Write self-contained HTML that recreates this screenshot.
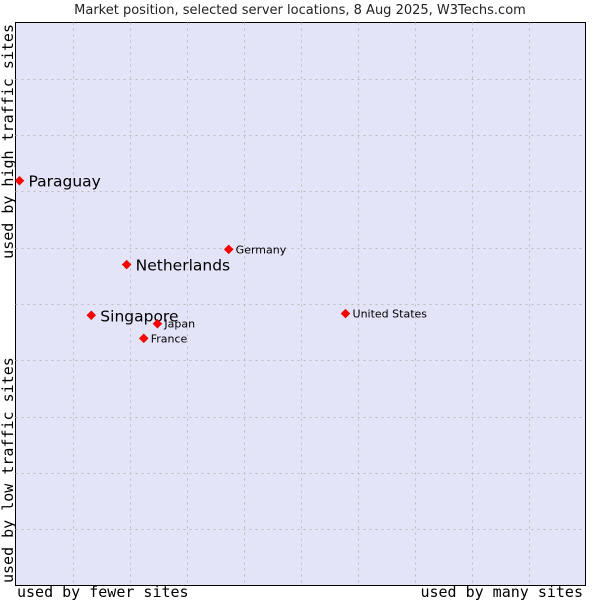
<!DOCTYPE html>
<html><head><meta charset="utf-8"><style>body{margin:0;background:#fff}svg{display:block}</style></head>
<body>
<svg id="c" width="600" height="600" xmlns="http://www.w3.org/2000/svg">
<rect x="0" y="0" width="600" height="600" fill="#fff"/>
<text x="300" y="14" text-anchor="middle" font-family="DejaVu Sans, sans-serif" font-size="13" fill="#222">Market position, selected server locations, 8 Aug 2025, W3Techs.com</text>
<rect x="15.5" y="22.5" width="570" height="563" fill="#e3e4f8" stroke="#000"/>
<g id="grid"></g>
<g id="pts"></g>
<text x="17" y="597" font-family="DejaVu Sans Mono, monospace" font-size="15" fill="#000">used by fewer sites</text>
<text x="583" y="597" text-anchor="end" font-family="DejaVu Sans Mono, monospace" font-size="15" fill="#000">used by many sites</text>
<text transform="translate(13,583) rotate(-90)" font-family="DejaVu Sans Mono, monospace" font-size="15" fill="#000">used by low traffic sites</text>
<text transform="translate(13,24) rotate(-90)" text-anchor="end" font-family="DejaVu Sans Mono, monospace" font-size="15" fill="#000">used by high traffic sites</text>
</svg>
<script>
const names=["Paraguay","Netherlands","Germany","Singapore","Japan","France","United States"];
const xVals=[0.7,19.5,37.4,13.3,24.9,22.5,57.9];
const yVals=[71.9,57.0,59.7,48.0,46.5,43.9,48.3];
const highlighted=[true,true,false,true,false,false,false];
const NS="http://www.w3.org/2000/svg";
const L=15.5,R=585.5,T=22.5,B=585.5;
const sx=v=>L+v/100*(R-L), sy=v=>B-v/100*(B-T);
const grid=document.getElementById('grid');
for(let i=1;i<10;i++){
  const v=document.createElementNS(NS,'line');
  v.setAttribute('x1',Math.round(sx(i*10))+0.5);v.setAttribute('x2',Math.round(sx(i*10))+0.5);
  v.setAttribute('y1',T);v.setAttribute('y2',B);
  v.setAttribute('stroke','#bdbdbd');v.setAttribute('stroke-dasharray','2,4');
  
  
  grid.appendChild(v);
  const h=document.createElementNS(NS,'line');
  h.setAttribute('y1',Math.round(sy(i*10))+0.5);h.setAttribute('y2',Math.round(sy(i*10))+0.5);
  h.setAttribute('x1',L);h.setAttribute('x2',R);
  h.setAttribute('stroke','#bdbdbd');h.setAttribute('stroke-dasharray','2,4');
  
  
  grid.appendChild(h);
}
const pts=document.getElementById('pts');
names.forEach((n,i)=>{
  const x=sx(xVals[i]),y=sy(yVals[i]);
  const d=document.createElementNS(NS,'path');
  d.setAttribute('d',`M${x},${y-4.5}L${x+4.5},${y}L${x},${y+4.5}L${x-4.5},${y}Z`);
  d.setAttribute('fill','#f00');d.setAttribute('stroke','#c00');d.setAttribute('stroke-width','0.5');
  
  
  pts.appendChild(d);
  const t=document.createElementNS(NS,'text');
  const big=highlighted[i];
  t.setAttribute('x',x+(big?9:7));t.setAttribute('y',y+(big?6:4));
  t.setAttribute('font-family','DejaVu Sans, sans-serif');
  t.setAttribute('font-size',big?15.5:11);t.setAttribute('fill','#000');
  t.textContent=n;
  
  
  pts.appendChild(t);
});
</script>
</body></html>
